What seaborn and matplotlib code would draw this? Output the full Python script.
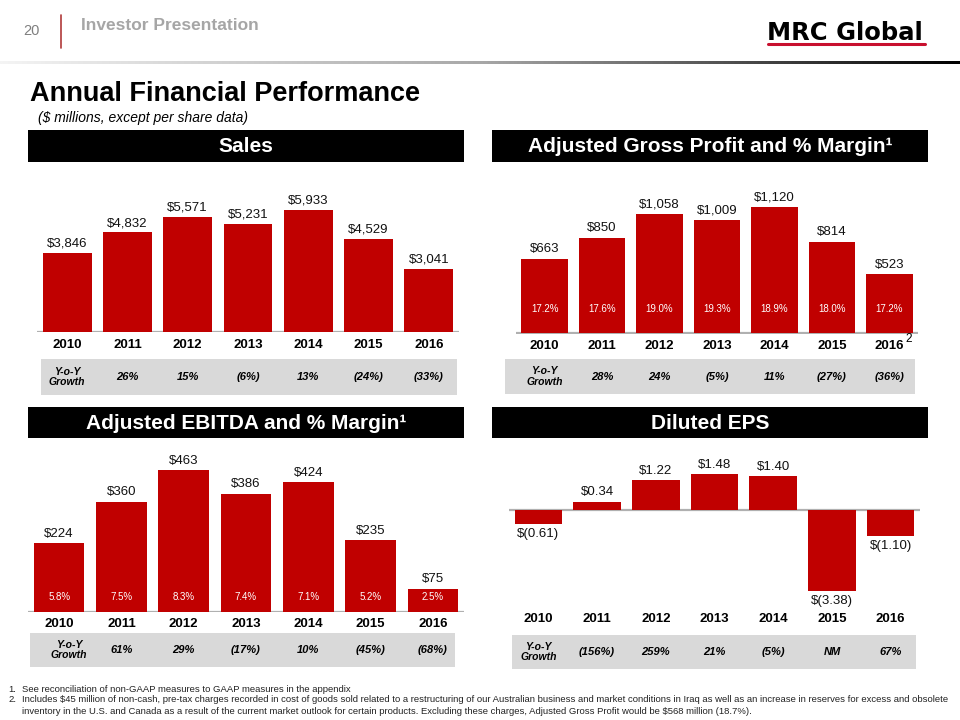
import numpy as np
import pandas as pd
import matplotlib
matplotlib.use("Agg")
import matplotlib.pyplot as plt
import seaborn as sns
from matplotlib.patches import Rectangle
from matplotlib.lines import Line2D
from matplotlib.colors import LinearSegmentedColormap

# ---------------- data ----------------
years = ["2010", "2011", "2012", "2013", "2014", "2015", "2016"]
sales = [3846, 4832, 5571, 5231, 5933, 4529, 3041]
sales_growth = ["26%", "15%", "(6%)", "13%", "(24%)", "(33%)"]
gross_profit = [663, 850, 1058, 1009, 1120, 814, 523]
gross_margin = ["17.2%", "17.6%", "19.0%", "19.3%", "18.9%", "18.0%", "17.2%"]
gp_growth = ["28%", "24%", "(5%)", "11%", "(27%)", "(36%)"]
ebitda = [224, 360, 463, 386, 424, 235, 75]
ebitda_margin = ["5.8%", "7.5%", "8.3%", "7.4%", "7.1%", "5.2%", "2.5%"]
ebitda_growth = ["61%", "29%", "(17%)", "10%", "(45%)", "(68%)"]
eps = [-0.61, 0.34, 1.22, 1.48, 1.40, -3.38, -1.10]
eps_growth = ["(156%)", "259%", "21%", "(5%)", "NM", "67%"]

footnote1 = "See reconciliation of non-GAAP measures to GAAP measures in the appendix"
footnote2a = ("Includes $45 million of non-cash, pre-tax charges recorded in cost of goods sold related to a "
              "restructuring of our Australian business and market conditions in Iraq as well as an increase "
              "in reserves for excess and obsolete")
footnote2b = ("inventory in the U.S. and Canada as a result of the current market outlook for certain products. "
              "Excluding these charges, Adjusted Gross Profit would be $568 million (18.7%).")

# ---------------- style ----------------
sns.set_theme(style="white")
plt.rcParams['font.family'] = ['Liberation Sans', 'DejaVu Sans']
RED = "#c00000"
BAND = "#d9d9d9"
AXGRAY = "#b0b0b0"

W, H = 960, 720
fig = plt.figure(figsize=(9.6, 7.2), dpi=100)
fig.patch.set_facecolor("white")


def fx(x):
    return x / W


def fy(y):
    return 1 - y / H


def rect(x0, y0, x1, y1):
    return [x0 / W, 1 - y1 / H, (x1 - x0) / W, (y1 - y0) / H]


def ftext(x, y, s, **kw):
    return fig.text(fx(x), fy(y), s, **kw)


def frect(x0, y0, x1, y1, color):
    fig.add_artist(Rectangle((fx(x0), fy(y1)), (x1 - x0) / W, (y1 - y0) / H,
                             transform=fig.transFigure, color=color, lw=0, zorder=0))


def colx(x0, x1, i):
    return x0 + (i + 0.5) * (x1 - x0) / 7


# ---------------- header ----------------
ftext(23, 31, "20", fontsize=10.5, color="#7f7f7f", ha="left", va="center")
fig.add_artist(Line2D([fx(61), fx(61)], [fy(15), fy(48)], transform=fig.transFigure,
                      color="#b03a3a", lw=1.2))
ftext(81, 25, "Investor Presentation", fontsize=12.5, fontweight="bold",
      color="#a6a6a6", ha="left", va="center")
ftext(767, 33, "MRC Global", fontsize=17.5, fontweight="bold", family="DejaVu Sans",
      color="black", ha="left", va="center")
fig.add_artist(Line2D([fx(768), fx(925)], [fy(44), fy(44)], transform=fig.transFigure,
                      color="#c8102e", lw=2.2))

gax = fig.add_axes(rect(0, 61, 960, 64))
cmap = LinearSegmentedColormap.from_list("g", ["#f4f4f4", "#a8a8a8", "#000000"])
gax.imshow(np.linspace(0, 1, 512)[None, :], cmap=cmap, aspect="auto")
gax.axis("off")

ftext(30, 94, "Annual Financial Performance", fontsize=19.5, fontweight="bold",
      color="black", ha="left", va="center")
ftext(38, 118, "($ millions, except per share data)", fontsize=10, style="italic",
      color="black", ha="left", va="center")


# ---------------- panels ----------------
def section_header(x0, y0, x1, y1, title):
    frect(x0, y0, x1, y1, "black")
    ftext((x0 + x1) / 2, (y0 + y1) / 2 + 1, title, fontsize=15, fontweight="bold",
          color="white", ha="center", va="center")


def bar_panel(x0, x1, top, bottom, base, scale, values, fmt, margins=None, margin_dy=0):
    ax = fig.add_axes(rect(x0, top, x1, bottom))
    df = pd.DataFrame({"year": years, "value": values})
    sns.barplot(data=df, x="year", y="value", ax=ax, color=RED, saturation=1,
                width=0.81, edgecolor="none", errorbar=None)
    ax.set_xlim(-0.5, 6.5)
    ax.set_ylim(-(bottom - base) / scale, (base - top) / scale)
    ax.axhline(0, color=AXGRAY, lw=1.6, zorder=0.5)
    ax.axis("off")
    for i, v in enumerate(values):
        if v >= 0:
            ax.annotate(fmt(v), (i, v), xytext=(0, 2.5), textcoords="offset points",
                        ha="center", va="bottom", fontsize=9.5, color="#111111")
        else:
            ax.annotate(fmt(v), (i, v), xytext=(0, -2.5), textcoords="offset points",
                        ha="center", va="top", fontsize=9.5, color="#111111")
    if margins is not None:
        for i, m in enumerate(margins):
            ax.annotate(m, (i, 0), xytext=(0, margin_dy * 0.72), textcoords="offset points",
                        ha="center", va="center", fontsize=7, color="white")
    return ax


def year_row(x0, x1, y):
    for i, yr in enumerate(years):
        ftext(colx(x0, x1, i), y, yr, fontsize=9.5, fontweight="bold",
              color="black", ha="center", va="center")


def growth_table(bx0, by0, bx1, by1, x0, x1, growth, label_dx=0):
    frect(bx0, by0, bx1, by1, BAND)
    yc = (by0 + by1) / 2
    ftext(colx(x0, x1, 0) + label_dx, yc, "Y-o-Y\nGrowth", fontsize=7.5, fontweight="bold",
          style="italic", color="black", ha="center", va="center", linespacing=1.1)
    for i, g in enumerate(growth):
        ftext(colx(x0, x1, i + 1), yc, g, fontsize=8, fontweight="bold", style="italic",
              color="black", ha="center", va="center")


money0 = lambda v: f"${v:,.0f}"
money2 = lambda v: f"${v:.2f}" if v >= 0 else f"$({abs(v):.2f})"

# Sales
section_header(28, 130, 464, 162, "Sales")
bar_panel(37, 459, 170, 332, 331.7, 0.02053, sales, money0)
year_row(37, 459, 345)
growth_table(41, 359, 457, 395, 37, 459, sales_growth)

# Adjusted Gross Profit
section_header(492, 130, 928, 162, "Adjusted Gross Profit and % Margin\u00b9")
bar_panel(516, 918, 175, 334, 333, 0.1122, gross_profit, money0,
          margins=gross_margin, margin_dy=24)
year_row(516, 918, 346)
ftext(colx(516, 918, 6) + 16, 339, "2", fontsize=8.5, color="black", ha="left", va="center")
growth_table(505, 359, 915, 394, 516, 918, gp_growth)

# Adjusted EBITDA
section_header(28, 407, 464, 438, "Adjusted EBITDA and % Margin\u00b9")
bar_panel(28, 464, 448, 612, 611.7, 0.305, ebitda, money0,
          margins=ebitda_margin, margin_dy=15)
year_row(28, 464, 624)
growth_table(30, 633, 455, 667, 28, 464, ebitda_growth, label_dx=10)

# Diluted EPS
section_header(492, 407, 928, 438, "Diluted EPS")
bar_panel(509, 920, 455, 608, 509.7, 24.08, eps, money2)
year_row(509, 920, 619)
growth_table(512, 635, 916, 669, 509, 920, eps_growth)

# ---------------- footnotes ----------------
fn = dict(fontsize=6.8, color="#222222", ha="left", va="center")
ftext(8, 689, "1.", **fn)
ftext(22, 689, footnote1, **fn)
ftext(8, 700, "2.", **fn)
ftext(22, 700, footnote2a, **fn)
ftext(22, 711, footnote2b, **fn)

fig.savefig("out.png", dpi=100, facecolor="white")
